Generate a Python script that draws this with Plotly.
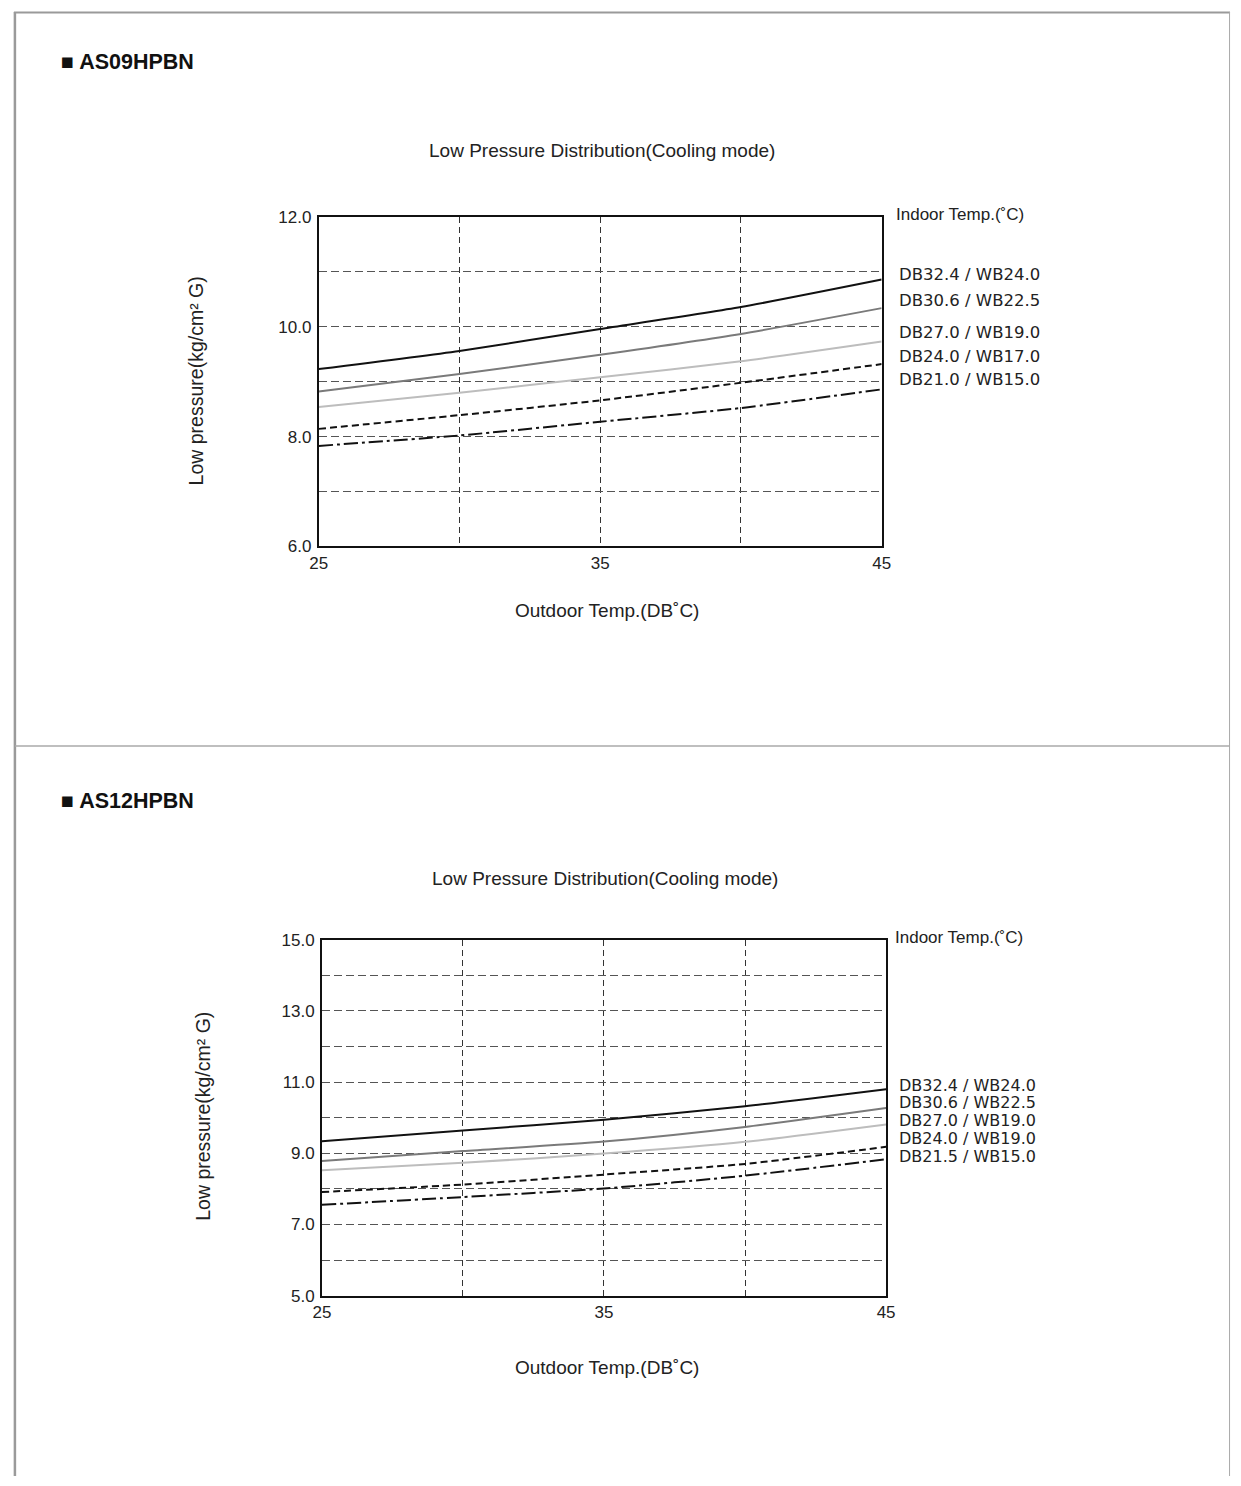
import plotly.graph_objects as go

# ---------------- data ----------------
outdoor_temp = [25, 30, 35, 40, 45]

series_labels_09 = ["DB32.4 / WB24.0", "DB30.6 / WB22.5", "DB27.0 / WB19.0",
                    "DB24.0 / WB17.0", "DB21.0 / WB15.0"]
as09_db324 = [9.23, 9.56, 9.96, 10.36, 10.86]
as09_db306 = [8.82, 9.14, 9.49, 9.87, 10.34]
as09_db270 = [8.54, 8.80, 9.08, 9.37, 9.73]
as09_db240 = [8.14, 8.39, 8.66, 8.98, 9.32]
as09_db210 = [7.83, 8.02, 8.27, 8.52, 8.86]

series_labels_12 = ["DB32.4 / WB24.0", "DB30.6 / WB22.5", "DB27.0 / WB19.0",
                    "DB24.0 / WB19.0", "DB21.5 / WB15.0"]
as12_db324 = [9.34, 9.64, 9.94, 10.32, 10.80]
as12_db306 = [8.78, 9.06, 9.33, 9.74, 10.27]
as12_db270 = [8.52, 8.73, 8.99, 9.32, 9.81]
as12_db240 = [7.91, 8.12, 8.40, 8.70, 9.18]
as12_db215 = [7.55, 7.77, 8.01, 8.37, 8.83]

x_tickvals = [25, 30, 35, 40, 45]
x_ticktext = ["25", "", "35", "", "45"]
y09_tickvals = [6, 7, 8, 9, 10, 11, 12]
y09_ticktext = ["6.0", "", "8.0", "", "10.0", "", "12.0"]
y12_tickvals = [5, 6, 7, 8, 9, 10, 11, 12, 13, 14, 15]
y12_ticktext = ["5.0", "", "7.0", "", "9.0", "", "11.0", "", "13.0", "", "15.0"]

# ---------------- layout helpers ----------------
W, H = 1241, 1486
def px(x):
    return x / W
def py(y):
    return 1 - y / H

FONT = "Liberation Sans, Arial, Helvetica, sans-serif"
LABEL_FONT = "DejaVu Sans, Verdana, sans-serif"

styles = [
    dict(color="#111111", width=2, dash="solid"),
    dict(color="#7a7a7a", width=2, dash="solid"),
    dict(color="#bdbdbd", width=2, dash="solid"),
    dict(color="#111111", width=2, dash="7px,4px"),
    dict(color="#111111", width=2, dash="14px,4px,3px,4px"),
]

fig = go.Figure()

top_series = [as09_db324, as09_db306, as09_db270, as09_db240, as09_db210]
bot_series = [as12_db324, as12_db306, as12_db270, as12_db240, as12_db215]

for vals, lab, st in zip(top_series, series_labels_09, styles):
    fig.add_trace(go.Scatter(x=outdoor_temp, y=vals, mode="lines", name=lab,
                             line=dict(shape="spline", smoothing=0.6, **st),
                             xaxis="x", yaxis="y", showlegend=False))
for vals, lab, st in zip(bot_series, series_labels_12, styles):
    fig.add_trace(go.Scatter(x=outdoor_temp, y=vals, mode="lines", name=lab,
                             line=dict(shape="spline", smoothing=0.6, **st),
                             xaxis="x2", yaxis="y2", showlegend=False))

def xaxis_cfg(domain, anchor):
    return dict(domain=domain, anchor=anchor, range=[25, 45],
                tickvals=x_tickvals, ticktext=x_ticktext, ticks="",
                showgrid=True, gridcolor="#333333", gridwidth=1, griddash="6px,4px",
                showline=True, mirror=True, linecolor="#111111", linewidth=1.8,
                zeroline=False, tickfont=dict(family=FONT, size=17, color="#222222"),
                fixedrange=True)

def yaxis_cfg(domain, anchor, rng, tv, tt):
    return dict(domain=domain, anchor=anchor, range=rng,
                tickvals=tv, ticktext=tt, ticks="",
                showgrid=True, gridcolor="#555555", gridwidth=1, griddash="8px,4px",
                showline=True, mirror=True, linecolor="#111111", linewidth=1.8,
                zeroline=False, tickfont=dict(family=FONT, size=17, color="#222222"),
                ticklabelstandoff=2, fixedrange=True)

annotations = []
def text(x, y, s, size=16, family=FONT, xanchor="left", bold=False, angle=0, color="#222222"):
    annotations.append(dict(
        x=px(x), y=py(y), xref="paper", yref="paper", text=(f"<b>{s}</b>" if bold else s),
        showarrow=False, xanchor=xanchor, yanchor="middle", textangle=angle,
        font=dict(family=family, size=size, color=color)))

# top chart
text(51, 54, "■ AS09HPBN", size=21.5, bold=True, color="#111111")
text(602, 143, "Low Pressure Distribution(Cooling mode)", size=19, xanchor="center")
text(898, 208, "Indoor Temp.(˚C)", size=17)
for lab, yy in zip(series_labels_09, [269, 295, 328, 352, 375]):
    text(901, yy, lab, size=16.5, family=LABEL_FONT)
text(607, 609, "Outdoor Temp.(DB˚C)", size=19, xanchor="center")
text(190, 377, "Low pressure(kg/cm² G)", size=19.5, xanchor="center", angle=-90)

# bottom chart
text(51, 802, "■ AS12HPBN", size=21.5, bold=True, color="#111111")
text(605, 881, "Low Pressure Distribution(Cooling mode)", size=19, xanchor="center")
text(897, 941, "Indoor Temp.(˚C)", size=17)
for lab, yy in zip(series_labels_12, [1090, 1108, 1126, 1144, 1162]):
    text(901, yy, lab, size=16, family=LABEL_FONT)
text(607, 1376, "Outdoor Temp.(DB˚C)", size=19, xanchor="center")
text(196, 1122, "Low pressure(kg/cm² G)", size=19.5, xanchor="center", angle=-90)

shapes = [
    # page frame
    dict(type="line", xref="paper", yref="paper", x0=px(5), x1=px(1239), y0=py(3.5), y1=py(3.5),
         line=dict(color="#9a9a9a", width=2)),
    dict(type="line", xref="paper", yref="paper", x0=px(6), x1=px(6), y0=py(3), y1=py(1486),
         line=dict(color="#9a9a9a", width=2.5)),
    dict(type="line", xref="paper", yref="paper", x0=px(1238.5), x1=px(1238.5), y0=py(3), y1=py(1486),
         line=dict(color="#aaaaaa", width=1)),
    dict(type="line", xref="paper", yref="paper", x0=px(6), x1=px(1238.5), y0=py(746.5), y1=py(746.5),
         line=dict(color="#aaaaaa", width=1.5)),
]

fig.update_layout(
    width=W, height=H, margin=dict(l=0, r=0, t=0, b=0),
    paper_bgcolor="white", plot_bgcolor="white",
    xaxis=xaxis_cfg([px(314.3), px(885.5)], "y"),
    yaxis=yaxis_cfg([py(544.3), py(210.7)], "x", [6, 12], y09_tickvals, y09_ticktext),
    xaxis2=xaxis_cfg([px(317.5), px(890)], "y2"),
    yaxis2=yaxis_cfg([py(1303.3), py(942.7)], "x2", [5, 15], y12_tickvals, y12_ticktext),
    annotations=annotations, shapes=shapes,
)

fig.write_html("out.html")
